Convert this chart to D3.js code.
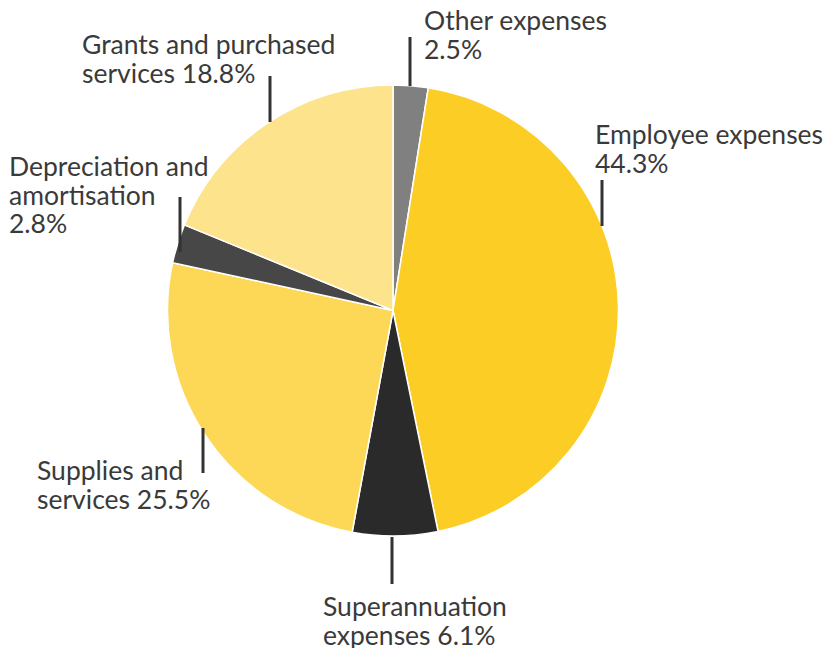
<!DOCTYPE html>
<html>
<head>
<meta charset="utf-8">
<script src="https://cdn.jsdelivr.net/npm/d3@7"></script>
<style>
  html, body { margin: 0; padding: 0; background: #fff; }
  svg { display: block; }
  text { font-family: Lato, "Open Sans", sans-serif; fill: #3a3a3a; }
</style>
</head>
<body>
<svg id="chart" width="829" height="648"></svg>
<script>
// Expense categories, clockwise from 12 o'clock
const categories = [
  "Other expenses",
  "Employee expenses",
  "Superannuation expenses",
  "Supplies and services",
  "Depreciation and amortisation",
  "Grants and purchased services"
];
const shares = [2.5, 44.3, 6.1, 25.5, 2.8, 18.8];
const colors = ["#808080", "#FCCD25", "#2a2a2a", "#FDD856", "#474747", "#FDE38B"];
// Label text lines per category
const labelLines = [
  ["Other expenses", "2.5%"],
  ["Employee expenses", "44.3%"],
  ["Superannuation", "expenses 6.1%"],
  ["Supplies and", "services 25.5%"],
  ["Depreciation and", "amortisation", "2.8%"],
  ["Grants and purchased", "services 18.8%"]
];

const svg = d3.select("#chart");
const cx = 393, cy = 310.5, r = 225.5;

const data = categories.map((c, i) => ({ name: c, value: shares[i], color: colors[i], lines: labelLines[i] }));

const pie = d3.pie().value(d => d.value).sort(null);
const arc = d3.arc().innerRadius(0).outerRadius(r);
const arcs = pie(data);

const g = svg.append("g").attr("transform", `translate(${cx},${cy})`);
g.selectAll("path")
  .data(arcs)
  .join("path")
  .attr("d", arc)
  .attr("fill", d => d.data.color)
  .attr("stroke", "#fff")
  .attr("stroke-width", 1.5);

// Label placement: leader x, leader top/bottom, text anchor point
const layout = [
  { lx: 410, y1: 37, y2: 86, tx: 424, ty: 30 },
  { lx: 602, y1: 180, y2: 226, tx: 595, ty: 144 },
  { lx: 392, y1: 537, y2: 584, tx: 323, ty: 616 },
  { lx: 203, y1: 428, y2: 473, tx: 37, ty: 480 },
  { lx: 180, y1: 197, y2: 252, tx: 9, ty: 176 },
  { lx: 270, y1: 76, y2: 122, tx: 82, ty: 54 }
];
const lineHeight = 28.7;

arcs.forEach((a, i) => {
  const L = layout[i];
  svg.append("line")
    .attr("x1", L.lx).attr("x2", L.lx)
    .attr("y1", L.y1).attr("y2", L.y2)
    .attr("stroke", "#333").attr("stroke-width", 3);
  const t = svg.append("text")
    .attr("x", L.tx).attr("y", L.ty)
    .attr("font-size", 26.5);
  a.data.lines.forEach((ln, j) => {
    t.append("tspan").attr("x", L.tx).attr("y", L.ty + j * lineHeight).text(ln);
  });
});
</script>
</body>
</html>
